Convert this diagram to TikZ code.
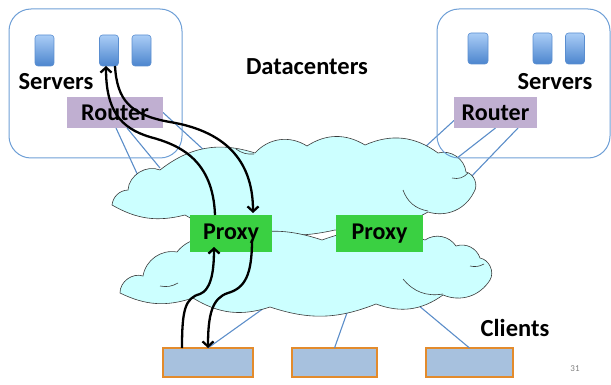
\documentclass[tikz,border=0pt]{standalone}
\usepackage{fontspec}
\setmainfont{Carlito}
\usetikzlibrary{arrows.meta,calc}
\definecolor{dcblue}{HTML}{6E9FD6}
\definecolor{lnblue}{HTML}{5B8DC9}
\definecolor{srvtop}{HTML}{AACDF6}
\definecolor{srvbot}{HTML}{4C85CE}
\definecolor{srvline}{HTML}{5A8ED0}
\definecolor{routerc}{HTML}{C0AFD1}
\definecolor{proxyc}{HTML}{3AD042}
\definecolor{clientc}{HTML}{A7C1DE}
\definecolor{clientl}{HTML}{E38B2C}
\definecolor{cloudc}{HTML}{CCFFFF}
\definecolor{cloudl}{HTML}{3A3A3A}
\begin{document}
\begin{tikzpicture}[x=1pt,y=-1pt,
  dcbox/.style={draw=dcblue,line width=1pt,rounded corners=22pt},
  server/.style={draw=srvline,line width=0.6pt,rounded corners=3pt,top color=srvtop,bottom color=srvbot,minimum width=19pt,minimum height=31pt,inner sep=0pt,outer sep=0pt},
  router/.style={fill=routerc,minimum height=31pt,inner sep=0pt,outer sep=0pt,font=\fontsize{24}{27}\selectfont\bfseries},
  proxy/.style={fill=proxyc,minimum height=37pt,inner sep=0pt,outer sep=0pt,font=\fontsize{24}{27}\selectfont\bfseries},
  client/.style={fill=clientc,draw=clientl,line width=1.2pt,minimum height=29pt,inner sep=0pt,outer sep=0pt},
  lbl/.style={font=\fontsize{24.5}{27}\selectfont\bfseries,inner sep=0pt},
  link/.style={draw=lnblue,line width=1.1pt},
  cloud/.style={fill=cloudc,draw=cloudl,line width=0.6pt},
  inner/.style={draw=cloudl,line width=0.6pt},
  flow/.style={draw=black,line width=2.3pt,-{Straight Barb[length=5pt,width=11pt]}}
]
\useasboundingbox (0,0) rectangle (611,385);

% nodes
\node[router,minimum width=96pt] (rL) at (115,112.5) {};
\node[router,minimum width=83pt] (rR) at (495.5,112.5) {};
\node[client,minimum width=90pt] (c1) at (208,362.5) {};
\node[client,minimum width=85pt] (c2) at (334.5,362.5) {};
\node[client,minimum width=87pt] (c3) at (469.5,362.5) {};

% cloud-end coordinates of links
\coordinate (eL1) at (140,180);
\coordinate (eL2) at (160,168);
\coordinate (eL3) at (206,152);
\coordinate (eR1) at (424,148);
\coordinate (eR2) at (452,162);
\coordinate (eR3) at (468,180);
\coordinate (eC1) at (264,308);
\coordinate (eC2) at (348,310);
\coordinate (eC3) at (412,300);

% links
\draw[link] ([xshift=49pt]rL.south west) -- (eL1);
\draw[link] ([xshift=60pt]rL.south west) -- (eL2);
\draw[link] (rL.east) -- (eL3);
\draw[link] ([yshift=-8pt]rR.west) -- (eR1);
\draw[link] (rR.south) -- (eR2);
\draw[link] ([xshift=64pt]rR.south west) -- (eR3);
\draw[link] (c1.north) -- (eC1);
\draw[link] (c2.north) -- (eC2);
\draw[link] (c3.north) -- (eC3);

% clouds
\path[cloud] (112,205) to[bend left=40] (128,190) to[bend left=55] (160,170)
  to[bend left=28] (255,153) to[bend left=40] (307,146) to[bend left=32] (365,145)
  to[bend left=30] (438,153) to[bend left=50] (466,172) to[bend left=55] (474,192)
  to[bend left=40] (428,212) to[bend left=18] (335,230) to[bend left=15] (243,226)
  to[bend left=20] (185,215) to[bend left=22] (112,205) -- cycle;
\draw[inner] (236,149) to[bend right=20] (254,154);
\draw[inner] (403,190) to[bend right=30] (428,211);
\draw[inner] (452,178) to[bend right=30] (468,173);

\path[cloud] (177,252) to[bend left=40] (220,243) to[bend left=20] (322,240)
  to[bend left=20] (425,240) to[bend left=45] (456,246) to[bend left=45] (480,258)
  to[bend left=55] (490,280) to[bend left=40] (443,295) to[bend left=28] (376,304)
  to[bend left=20] (270,307) to[bend left=25] (193,298) to[bend left=22] (120,293)
  to[bend left=55] (143,276) to[bend left=45] (177,252) -- cycle;
\draw[inner] (403,279) to[bend right=30] (443,294);
\draw[inner] (470,266) to[bend right=20] (484,264);
\draw[inner] (160,286) to[bend right=20] (178,283);

% datacenter boxes
\draw[dcbox] (9,9) rectangle (182,158);
\draw[dcbox] (437,9) rectangle (610,158);

% servers
\node[server] (s1) at (44.5,50.5) {};
\node[server] (s2) at (109,50.5) {};
\node[server] (s3) at (141.5,50.5) {};
\node[server,minimum width=20pt] (s4) at (478,48.5) {};
\node[server] (s5) at (542.5,48.5) {};
\node[server] (s6) at (575,48.5) {};

% routers (redraw over links)
\node[router,minimum width=96pt] at (rL) {Router};
\node[router,minimum width=83pt] at (rR) {Router};

% proxies
\node[proxy,minimum width=82pt] (pL) at (231,233.5) {Proxy};
\node[proxy,minimum width=87pt] (pR) at (379.5,233.5) {Proxy};

% flows
\draw[flow] ([xshift=-16pt]pL.north) .. controls (213,160) and (180,145) .. (150,137)
  .. controls (120,128) and (106,110) .. ([xshift=-3pt]s2.south);
\draw[flow] ([xshift=6pt]s2.south) .. controls (117,100) and (130,115) .. (170,122)
  .. controls (230,132) and (253,165) .. ([xshift=22pt,yshift=2pt]pL.north);
\draw[flow] ([xshift=-26pt]c1.north) .. controls (182,310) and (185,298) .. (200,294)
  .. controls (210,290) and (214,275) .. ([xshift=-17pt,yshift=5pt]pL.south);
\draw[flow] ([xshift=21pt,yshift=12pt]pL.south) .. controls (252,275) and (245,288) .. (228,293)
  .. controls (212,298) and (208,315) .. (c1.north);

% labels
\node[lbl] (tsL) at (56,82) {Servers};
\node[lbl] (tsR) at (555,82) {Servers};
\node[lbl] (tdc) at (307,67) {Datacenters};
\node[lbl] (tcl) at (515,328) {Clients};
\node[font=\fontsize{9}{10}\selectfont,text=gray,inner sep=0pt] (pg) at (575,369) {31};
\end{tikzpicture}
\end{document}
